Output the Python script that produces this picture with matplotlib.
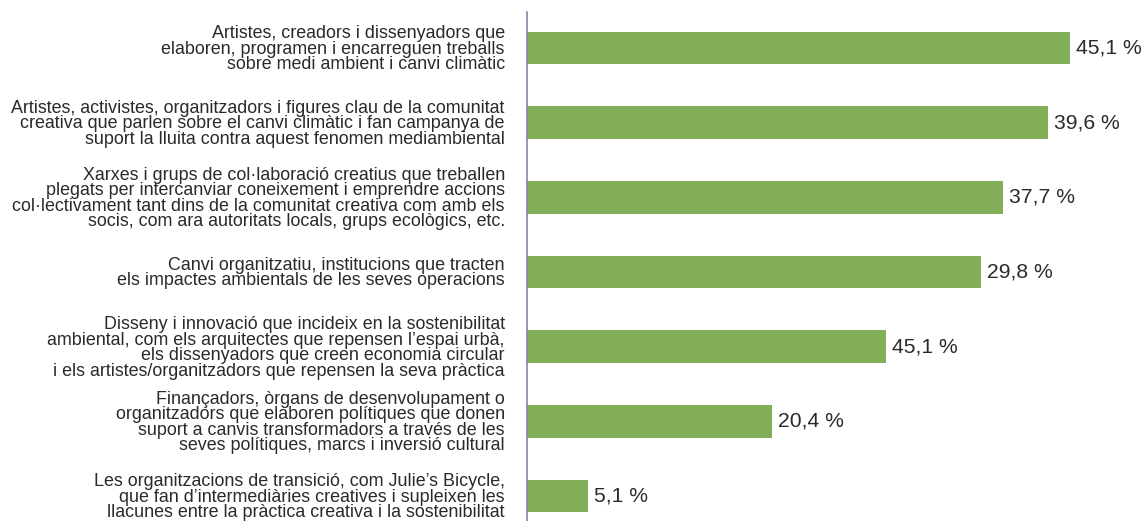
import matplotlib
matplotlib.use("Agg")
import matplotlib.pyplot as plt
import numpy as np

categories = [
    "Artistes, creadors i dissenyadors que\nelaboren, programen i encarreguen treballs\nsobre medi ambient i canvi climàtic",
    "Artistes, activistes, organitzadors i figures clau de la comunitat\ncreativa que parlen sobre el canvi climàtic i fan campanya de\nsuport la lluita contra aquest fenomen mediambiental",
    "Xarxes i grups de col·laboració creatius que treballen\nplegats per intercanviar coneixement i emprendre accions\ncol·lectivament tant dins de la comunitat creativa com amb els\nsocis, com ara autoritats locals, grups ecològics, etc.",
    "Canvi organitzatiu, institucions que tracten\nels impactes ambientals de les seves operacions",
    "Disseny i innovació que incideix en la sostenibilitat\nambiental, com els arquitectes que repensen l’espai urbà,\nels dissenyadors que creen economia circular\ni els artistes/organitzadors que repensen la seva pràctica",
    "Finançadors, òrgans de desenvolupament o\norganitzadors que elaboren polítiques que donen\nsuport a canvis transformadors a través de les\nseves polítiques, marcs i inversió cultural",
    "Les organitzacions de transició, com Julie’s Bicycle,\nque fan d’intermediàries creatives i supleixen les\nllacunes entre la pràctica creativa i la sostenibilitat",
]
# bar lengths as drawn in the picture
bar_values = [45.1, 43.3, 39.6, 37.7, 29.8, 20.4, 5.1]
# labels as printed in the picture
value_labels = ["45,1 %", "39,6 %", "37,7 %", "29,8 %", "45,1 %", "20,4 %", "5,1 %"]

plt.rcParams['font.family'] = ['Liberation Sans', 'DejaVu Sans']

fig = plt.figure(figsize=(11.43, 5.21), dpi=100)
ax = fig.add_axes([527 / 1143, 0, 616 / 1143, 1 - 12 / 521])

y = np.arange(len(categories))
ax.barh(y, bar_values, height=0.44, color="#82ae57", zorder=2)

for yi, v, lab in zip(y, bar_values, value_labels):
    ax.text(v + 0.5, yi, lab, va="center", ha="left", fontsize=15.2, color="#2a2a2a")

ax.set_xlim(0, 51.2)
ax.set_ylim(len(categories) - 1 + 0.335, -0.483)

ax.set_yticks(y)
ax.set_yticklabels(categories, fontsize=12.9, color="#2a2a2a", linespacing=0.88)
ax.tick_params(axis="y", length=0, pad=16)
ax.set_xticks([])

for s in ["top", "right", "bottom"]:
    ax.spines[s].set_visible(False)
ax.spines["left"].set_color("#8585a8")
ax.spines["left"].set_linewidth(1.2)

fig.savefig("out.png", dpi=100)
